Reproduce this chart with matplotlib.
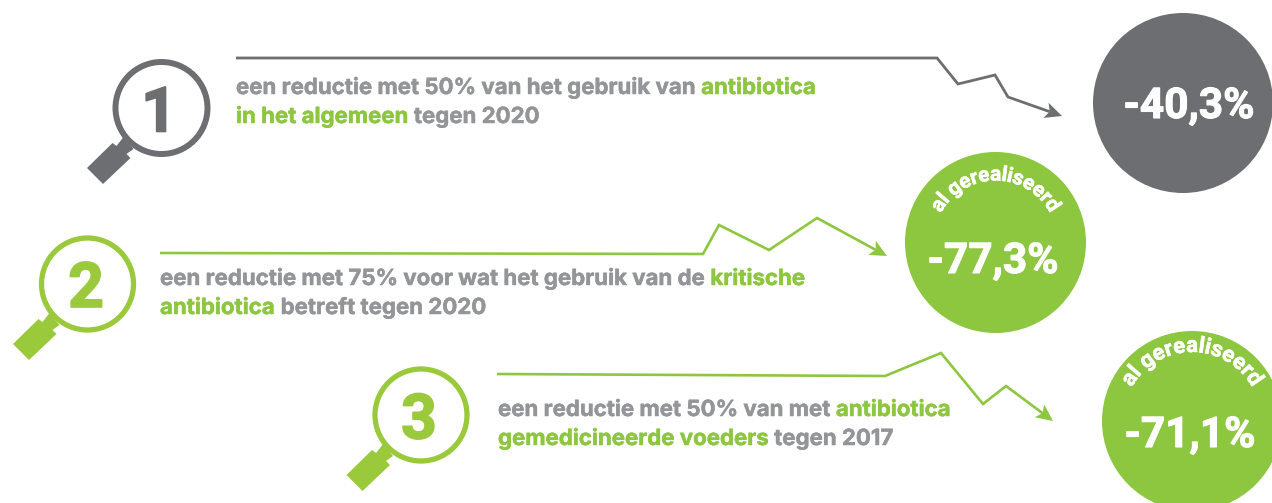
#!/usr/bin/env python
"""Three antibiotics reduction targets: magnifiers, trend arrows and result circles."""

import math

import matplotlib
matplotlib.use("Agg")
import matplotlib.patheffects as pe
import matplotlib.pyplot as plt
from matplotlib.patches import Circle, Polygon

W, H = 1272, 503
BODY_FONT = "Inter"
FONT = "Roboto"

GREY = "#6d6e71"
TEXT_GREY = "#939598"
GREEN = "#8dc63f"
LENS_GREEN = "#9aca3c"

NUMBERS = ["1", "2", "3"]
RESULTS = ["-40,3%", "-77,3%", "-71,1%"]
ARC_LABEL = "al gerealiseerd"

# (text, highlighted) runs per line
TARGET_1 = [
    [("een reductie met 50% van het gebruik van ", False), ("antibiotica", True)],
    [("in het algemeen", True), (" tegen 2020", False)],
]
TARGET_2 = [
    [("een reductie met 75% voor wat het gebruik van de ", False), ("kritische", True)],
    [("antibiotica", True), (" betreft tegen 2020", False)],
]
TARGET_3 = [
    [("een reductie met 50% van met ", False), ("antibiotica", True)],
    [("gemedicineerde voeders", True), (" tegen 2017", False)],
]

TREND_1 = [(236, 58), (937, 58), (958, 84), (995, 75), (1008, 97), (1062, 116)]
TREND_2 = [(160, 253), (703, 254), (719, 225), (769, 250), (817, 218), (887, 256)]
TREND_3 = [(497, 374), (885, 376), (941, 353), (983, 404), (1006, 386), (1053, 421)]

HANDLE = [(-74.5, 60), (-49, 35), (-45, 38), (-38, 29), (-28, 41), (-35, 46),
          (-31, 50), (-58.5, 76)]


def heavy(color, lw):
    # the fonts here are lighter than the original, thicken them a bit
    return [pe.withStroke(linewidth=lw, foreground=color)]


def run_width(ax, renderer, s, size, family):
    # bar trick, trailing spaces are not counted otherwise
    t = ax.text(0, 0, s + "|", fontsize=size, family=family, weight="bold")
    b = ax.text(0, 0, "|", fontsize=size, family=family, weight="bold")
    w = t.get_window_extent(renderer).width - b.get_window_extent(renderer).width
    t.remove()
    b.remove()
    return w


def draw_target(ax, renderer, lines, x0, baselines, size):
    for runs, y in zip(lines, baselines):
        x = x0
        for s, hot in runs:
            color = GREEN if hot else TEXT_GREY
            ax.text(x, y, s, fontsize=size, family=BODY_FONT, weight="bold", color=color,
                    va="baseline", ha="left", path_effects=heavy(color, 0.35))
            x += run_width(ax, renderer, s, size, BODY_FONT)


def draw_trend(ax, pts, color, lw):
    xs, ys = zip(*pts)
    ux, uy = xs[-1] - xs[-2], ys[-1] - ys[-2]
    d = math.hypot(ux, uy)
    ux, uy = ux / d, uy / d
    tip = pts[-1]
    back = (tip[0] - 17 * ux, tip[1] - 17 * uy)
    notch = (tip[0] - 13 * ux, tip[1] - 13 * uy)
    ax.plot(list(xs[:-1]) + [notch[0]], list(ys[:-1]) + [notch[1]], color=color, lw=lw,
            solid_joinstyle="miter", solid_capstyle="butt")
    head = [tip,
            (back[0] - 8 * uy, back[1] + 8 * ux),
            notch,
            (back[0] + 8 * uy, back[1] - 8 * ux)]
    ax.add_patch(Polygon(head, closed=True, fc=color, ec="none"))


def draw_lens(ax, cx, cy, label, num_xy, color, ring_lw):
    pts = [(cx + dx, cy + dy) for dx, dy in HANDLE]
    ax.add_patch(Polygon(pts, closed=True, fc=color, ec="none", zorder=2))
    ax.add_patch(Circle((cx, cy), 46, fc="white", ec=color, lw=ring_lw, zorder=3))
    ax.text(num_xy[0], num_xy[1], label, fontsize=45, family=FONT, weight="bold",
            color=color, ha="center", va="center_baseline", zorder=4,
            path_effects=heavy(color, 1.2))


def draw_result(ax, cx, cy, r, label, text_xy, color):
    ax.add_patch(Circle((cx, cy), r, fc=color, ec="none", clip_on=True))
    ax.text(text_xy[0], text_xy[1], label, fontsize=30.5, family=FONT, weight="bold",
            color="white", ha="center", va="center_baseline",
            path_effects=heavy("white", 0.8))


def draw_arc_label(ax, renderer, cx, cy, radius, label, span_deg, size):
    widths = [run_width(ax, renderer, c, size, FONT) for c in label]
    gap = (math.radians(2 * span_deg) * radius - sum(widths)) / (len(label) - 1)
    pos = -math.radians(span_deg)
    for c, w in zip(label, widths):
        a = pos + w / 2 / radius
        x = cx + radius * math.sin(a)
        y = cy - radius * math.cos(a)
        ax.text(x, y, c, fontsize=size, family=FONT, weight="bold", color="white",
                rotation=-math.degrees(a), rotation_mode="anchor",
                ha="center", va="baseline", path_effects=heavy("white", 0.4))
        pos += (w + gap) / radius


def main():
    fig = plt.figure(figsize=(W / 100, H / 100), dpi=100)
    ax = fig.add_axes([0, 0, 1, 1])
    ax.set_xlim(0, W)
    ax.set_ylim(H, 0)
    ax.axis("off")
    renderer = fig.canvas.get_renderer()

    draw_trend(ax, TREND_1, GREY, 2.0)
    draw_trend(ax, TREND_2, GREEN, 1.9)
    draw_trend(ax, TREND_3, GREEN, 1.9)

    draw_lens(ax, 161.5, 108, NUMBERS[0], (159, 108), GREY, 4.3)
    draw_lens(ax, 87.5, 284, NUMBERS[1], (86, 283.5), LENS_GREEN, 3.8)
    draw_lens(ax, 421, 415, NUMBERS[2], (419, 415), LENS_GREEN, 3.8)

    draw_target(ax, renderer, TARGET_1, 236, (94, 123), 16)
    draw_target(ax, renderer, TARGET_2, 160, (285, 314), 16)
    draw_target(ax, renderer, TARGET_3, 498, (416, 445), 16)

    draw_result(ax, 1183, 103, 90, RESULTS[0], (1189, 102), GREY)
    draw_result(ax, 995.5, 242.5, 90.5, RESULTS[1], (993, 257), GREEN)
    draw_result(ax, 1192, 421, 90, RESULTS[2], (1190, 431), GREEN)

    draw_arc_label(ax, renderer, 995.5, 242.5, 62, ARC_LABEL, 62, 15)
    draw_arc_label(ax, renderer, 1192, 421, 69, ARC_LABEL, 61, 16)

    fig.savefig("out.png", dpi=100)


if __name__ == "__main__":
    main()
